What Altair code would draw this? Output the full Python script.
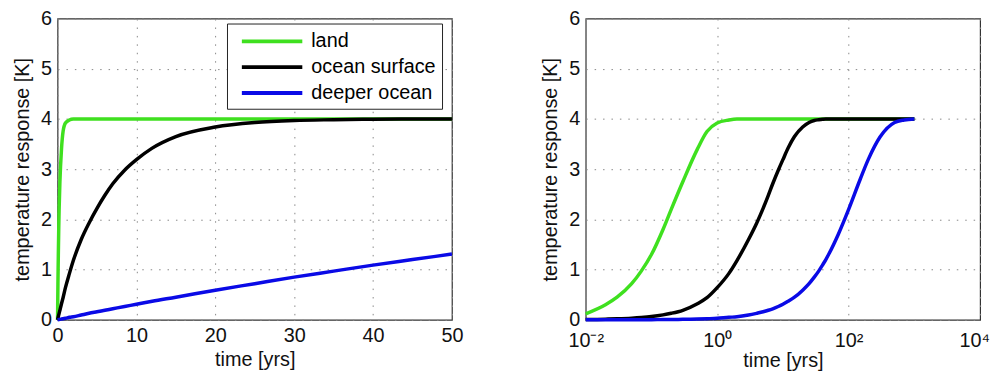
import altair as alt
import pandas as pd

# time points [yrs] and temperature responses [K]
times = [0, 0.01, 0.02, 0.03, 0.05, 0.07, 0.1, 0.15, 0.2, 0.3, 0.5, 0.7, 1, 1.5, 2, 3, 4, 5, 6, 7, 8.5, 10, 12,
         15, 20, 25, 30, 35, 40, 45, 50, 70, 100, 150, 200, 300, 500, 700, 1000]
land = [0, 0.12, 0.3, 0.45, 0.72, 0.97, 1.3, 1.8, 2.2, 2.75, 3.4, 3.75, 3.92, 3.98, 4.0, 4.0, 4.0, 4.0, 4.0, 4.0, 4.0, 4.0, 4.0,
        4.0, 4.0, 4.0, 4.0, 4.0, 4.0, 4.0, 4.0, 4.0, 4.0, 4.0, 4.0, 4.0, 4.0, 4.0, 4.0]
ocean_surface = [0, 0.007, 0.013, 0.02, 0.033, 0.046, 0.065, 0.098, 0.13, 0.19, 0.32, 0.44, 0.64, 0.92, 1.18, 1.6, 1.93, 2.22, 2.48, 2.71, 2.98, 3.19, 3.42,
                 3.65, 3.84, 3.93, 3.97, 3.985, 3.995, 4.0, 4.0, 4.0, 4.0, 4.0, 4.0, 4.0, 4.0, 4.0, 4.0]
deeper_ocean = [0, 0.0003, 0.0006, 0.001, 0.0016, 0.002, 0.003, 0.005, 0.006, 0.01, 0.016, 0.022, 0.03, 0.05, 0.06, 0.095, 0.13, 0.16, 0.19, 0.22, 0.265, 0.31, 0.37,
                0.45, 0.59, 0.72, 0.85, 0.97, 1.09, 1.2, 1.31, 1.71, 2.2, 2.8, 3.2, 3.64, 3.93, 3.98, 4.0]

series_names = ["land", "ocean surface", "deeper ocean"]
series_colors = ["#3fe01f", "#000000", "#0a0ae6"]
y_ticks = [0, 1, 2, 3, 4, 5, 6]
x_lin_ticks = [0, 10, 20, 30, 40, 50]
x_log_ticks = [0.01, 1, 100, 10000]

rows = []
for name, vals in zip(series_names, [land, ocean_surface, deeper_ocean]):
    for i, (t, v) in enumerate(zip(times, vals)):
        rows.append({"time": t, "temp": v, "series": name, "order": i})
df = pd.DataFrame(rows)

FONT = "Liberation Sans"
W, H = 398, 304

y_enc = alt.Y("temp:Q", scale=alt.Scale(domain=[0, 6], nice=False, padding=0),
              axis=alt.Axis(values=y_ticks, title="temperature response [K]", format="d"))

left = alt.Chart(df[df["time"] <= 50]).mark_line(strokeWidth=3.5, interpolate="monotone").encode(
    x=alt.X("time:Q", scale=alt.Scale(domain=[0, 50], nice=False, padding=0),
            axis=alt.Axis(values=x_lin_ticks, title="time [yrs]", format="d")),
    y=y_enc,
    color=alt.Color("series:N", sort=series_names,
                    scale=alt.Scale(domain=series_names, range=series_colors),
                    legend=alt.Legend(title=None, orient="none", legendX=171, legendY=5,
                                      symbolType="M-0.3,0H5.8", symbolSize=400, symbolStrokeWidth=4,
                                      labelFontSize=20, labelFont=FONT, labelOffset=55,
                                      strokeColor="#222", fillColor="white", padding=6,
                                      rowPadding=4, cornerRadius=0)),
    order="order:Q",
).properties(width=W, height=H)

right = alt.Chart(df[df["time"] > 0]).mark_line(strokeWidth=3.5, interpolate="monotone").encode(
    x=alt.X("time:Q", scale=alt.Scale(type="log", domain=[0.01, 10000], nice=False, padding=0),
            axis=alt.Axis(values=x_log_ticks, title="time [yrs]", labelPadding=11, titlePadding=0,
                          labelOffset=alt.condition("datum.value == 10000", alt.value(-6), alt.value(0)),
                          labelExpr="datum.value == 0.01 ? '10⁻²' : datum.value == 1 ? '10⁰' : datum.value == 100 ? '10²' : '10⁴'")),
    y=y_enc,
    color=alt.Color("series:N", sort=series_names,
                    scale=alt.Scale(domain=series_names, range=series_colors), legend=None),
    order="order:Q",
).properties(width=W, height=H)

chart = alt.hconcat(left, right, spacing=77).resolve_scale(color="independent").properties(
    padding={"left": 4, "top": -2, "right": 0, "bottom": 0}
).configure_axis(
    labelFont=FONT, titleFont=FONT, labelFontSize=20, titleFontSize=20,
    labelColor="#111", titleColor="#111", titleFontWeight="normal",
    ticks=False, labelPadding=6, domain=False, labelFlush=False,
    grid=True, gridColor="#888", gridDash=[1.5, 7], gridWidth=1,
).configure_axisX(titlePadding=4).configure_axisY(titlePadding=8).configure_view(
    stroke="#333", strokeWidth=1.2
)

chart.save("out.html", embed_options={"renderer": "svg", "actions": False})
